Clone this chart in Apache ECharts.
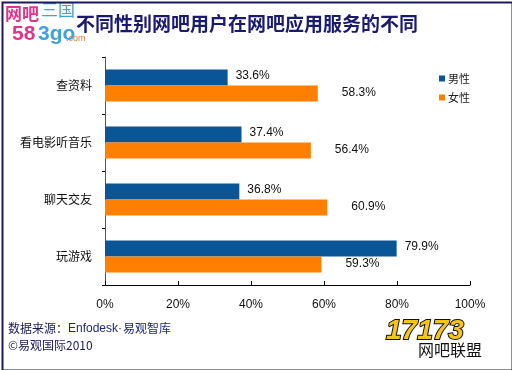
<!DOCTYPE html>
<html><head><meta charset="utf-8">
<script src="https://cdn.jsdelivr.net/npm/echarts@6/dist/echarts.min.js"></script>
<style>html,body{margin:0;padding:0;background:#fff}#c{width:512px;height:370px}</style>
</head><body><div id="c"></div>
<script>
var categories = ['查资料', '看电影听音乐', '聊天交友', '玩游戏'];
var maleValues = [33.6, 37.4, 36.8, 79.9];
var femaleValues = [58.3, 56.4, 60.9, 59.3];
var xTicks = [0, 20, 40, 60, 80, 100];
var seriesNames = ['男性', '女性'];
var titleText = '不同性别网吧用户在网吧应用服务的不同';
var sourceLabel = '数据来源：';
var sourceName = 'Enfodesk·';
var sourceName2 = '易观智库';
var copyrightText = '©易观国际2010';

var chart = echarts.init(document.getElementById('c'));
var cjk = '"Noto Sans CJK SC", "Liberation Sans", sans-serif';
var lat = '"Liberation Sans", "Noto Sans CJK SC", sans-serif';
chart.setOption({
  animation: false,
  backgroundColor: '#fff',
  textStyle: {fontFamily: lat},
  grid: {left: 105, right: 42, top: 57, bottom: 85},
  legend: {
    orient: 'vertical', left: 434, top: 68, itemWidth: 6, itemHeight: 6, itemGap: 8,
    icon: 'rect', data: seriesNames,
    textStyle: {fontSize: 11, color: '#222', fontFamily: cjk, padding: [0, 0, 0, -2]}
  },
  xAxis: {
    type: 'value', min: xTicks[0], max: xTicks[xTicks.length - 1], interval: 20,
    axisLine: {show: true, lineStyle: {color: '#000', width: 1}},
    axisTick: {show: true, inside: true, length: 4, lineStyle: {color: '#000'}},
    splitLine: {show: false},
    axisLabel: {formatter: '{value}%', fontSize: 12, color: '#111', margin: 14, fontFamily: lat}
  },
  yAxis: {
    type: 'category', data: categories, inverse: true,
    axisLine: {show: true, lineStyle: {color: '#555', width: 1}},
    axisTick: {show: true, length: 3, lineStyle: {color: '#000'}},
    axisLabel: {fontSize: 12, color: '#111', margin: 13, fontFamily: cjk}
  },
  series: [
    {name: seriesNames[0], type: 'bar', data: maleValues, barWidth: 16, barGap: '0%',
     itemStyle: {color: '#0A5595'},
     label: {show: true, position: 'right', distance: 8, formatter: '{c}%', fontSize: 12, color: '#111', fontFamily: lat, offset: [0, -2]}},
    {name: seriesNames[1], type: 'bar', data: femaleValues, barWidth: 16,
     itemStyle: {color: '#FF8000'},
     label: {show: true, position: 'right', distance: 24, formatter: '{c}%', fontSize: 12, color: '#111', fontFamily: lat, offset: [0, -1]}}
  ],
  graphic: [
    {type: 'rect', left: 0, top: 0, shape: {width: 510, height: 368}, style: {fill: 'none', stroke: '#1B1B5E', lineWidth: 2}, z: 100},
    {type: 'text', left: 76, top: 14, style: {text: titleText, font: 'bold 19px ' + cjk, fill: '#1A1A6E'}},
    {type: 'text', left: 5, top: 5, style: {text: '网吧', font: 'bold 17px ' + cjk, fill: '#E0348C'}},
    {type: 'text', left: 41, top: 1, style: {text: '三国', font: '17px ' + cjk, fill: '#3FA2DA'}},
    {type: 'text', left: 12, top: 24, style: {text: '58', font: 'bold 21px ' + lat, fill: '#E0348C'}},
    {type: 'text', left: 38, top: 24, style: {text: '3go', font: 'bold 21px ' + lat, fill: '#3FA2DA'}},
    {type: 'text', left: 66, top: 34, style: {text: '.com', font: '9px ' + lat, fill: '#E07A30'}},
    {type: 'text', left: 8, top: 322, style: {text: sourceLabel, font: '12px ' + cjk, fill: '#1A1A5A'}},
    {type: 'text', left: 68, top: 323, style: {text: sourceName, font: '12px ' + lat, fill: '#1E2A80'}},
    {type: 'text', left: 123, top: 322, style: {text: sourceName2, font: '12px ' + cjk, fill: '#1E2A80'}},
    {type: 'text', left: 8, top: 339, style: {text: copyrightText, font: '12px ' + cjk, fill: '#1A1A5A'}},
    {type: 'text', left: 385, top: 316, style: {text: '17173', font: 'italic bold 28px ' + lat, fill: '#F5C518', stroke: '#111', lineWidth: 2}},
    {type: 'text', left: 418, top: 342, style: {text: '网吧联盟', font: '16px ' + cjk, fill: '#111'}}
  ]
});
</script></body></html>
